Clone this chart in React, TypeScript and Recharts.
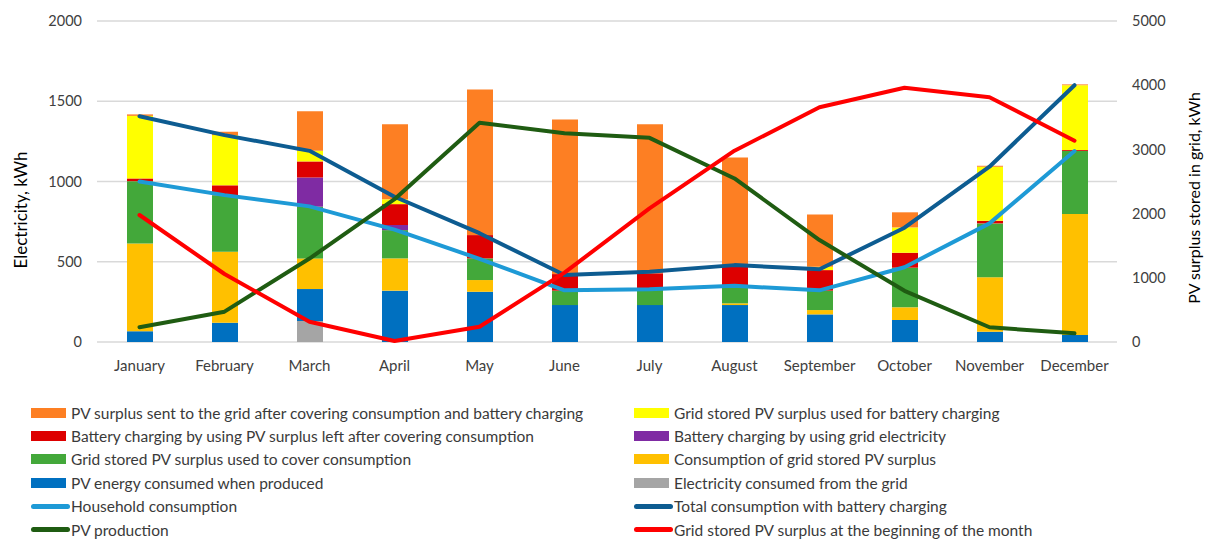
import { ComposedChart, Bar, Line, XAxis, YAxis, CartesianGrid } from 'recharts';

const months = ['January', 'February', 'March', 'April', 'May', 'June', 'July', 'August', 'September', 'October', 'November', 'December'];

// stacked bars, kWh (bottom to top)
const gridConsumed = [0, 0, 131, 0, 0, 0, 0, 0, 0, 0, 0, 0];
const pvDirect = [67, 120, 199, 320, 313, 230, 230, 230, 172, 137, 64, 44];
const gridStoredConsumption = [547, 442, 191, 201, 73, 0, 0, 11, 27, 79, 339, 753];
const gridStoredCover = [388, 353, 322, 176, 135, 90, 94, 103, 121, 247, 336, 394];
const batteryGrid = [0, 0, 182, 32, 0, 0, 0, 0, 0, 0, 0, 0];
const batteryPv = [17, 61, 100, 130, 145, 103, 104, 125, 128, 93, 16, 6];
const gridStoredBattery = [390, 313, 66, 30, 0, 0, 0, 0, 21, 158, 337, 403];
const pvSentGrid = [9, 21, 247, 467, 907, 964, 928, 681, 326, 94, 6, 5];

// lines
const household = [1000, 915, 845, 700, 518, 322, 328, 350, 322, 466, 739, 1190];
const totalWithBattery = [1407, 1289, 1191, 905, 678, 417, 438, 479, 453, 712, 1092, 1600];
const pvProduction = [92, 189, 520, 890, 1366, 1300, 1272, 1019, 635, 319, 92, 54];
const gridStoredStart = [1978, 1059, 316, 15, 238, 1080, 2082, 2980, 3656, 3961, 3812, 3136];

const leftTicks = [0, 500, 1000, 1500, 2000];
const rightTicks = [0, 1000, 2000, 3000, 4000, 5000];

const data = months.map((m, i) => ({
  month: m,
  gridConsumed: gridConsumed[i],
  pvDirect: pvDirect[i],
  gridStoredConsumption: gridStoredConsumption[i],
  gridStoredCover: gridStoredCover[i],
  batteryGrid: batteryGrid[i],
  batteryPv: batteryPv[i],
  gridStoredBattery: gridStoredBattery[i],
  pvSentGrid: pvSentGrid[i],
  household: household[i],
  totalWithBattery: totalWithBattery[i],
  pvProduction: pvProduction[i],
  gridStoredStart: gridStoredStart[i],
}));

const FONT = 'Lato, "Open Sans", sans-serif';

const legendLeft = [
  { label: 'PV surplus sent to the grid after covering consumption and battery charging', color: '#FD7F23', kind: 'bar' },
  { label: 'Battery charging by using PV surplus left after covering consumption', color: '#DD0000', kind: 'bar' },
  { label: 'Grid stored PV surplus used to cover consumption', color: '#43A83A', kind: 'bar' },
  { label: 'PV energy consumed when produced', color: '#0070C0', kind: 'bar' },
  { label: 'Household consumption', color: '#1E9AD6', kind: 'line' },
  { label: 'PV production', color: '#1F5C12', kind: 'line' },
];
const legendRight = [
  { label: 'Grid stored PV surplus used for battery charging', color: '#FFFF00', kind: 'bar' },
  { label: 'Battery charging by using grid electricity', color: '#7F2BA3', kind: 'bar' },
  { label: 'Consumption of grid stored PV surplus', color: '#FFC000', kind: 'bar' },
  { label: 'Electricity consumed from the grid', color: '#A5A5A5', kind: 'bar' },
  { label: 'Total consumption with battery charging', color: '#0D5C91', kind: 'line' },
  { label: 'Grid stored PV surplus at the beginning of the month', color: '#FF0000', kind: 'line' },
];

function LegendColumn({ items, left }: { items: typeof legendLeft; left: number }) {
  return (
    <div style={{ position: 'absolute', left, top: 401 }}>
      {items.map((it) => (
        <div key={it.label} style={{ display: 'flex', alignItems: 'center', height: 23.4 }}>
          {it.kind === 'bar' ? (
            <span style={{ width: 35, height: 10, background: it.color, marginRight: 5 }} />
          ) : (
            <span style={{ width: 39, height: 5, borderRadius: 3, background: it.color, marginRight: 1 }} />
          )}
          <span style={{ fontSize: 15.5, color: '#3a3a3a', whiteSpace: 'nowrap' }}>{it.label}</span>
        </div>
      ))}
    </div>
  );
}

export default function App() {
  return (
    <div style={{ position: 'absolute', left: 0, top: 0, width: 1207, height: 540, background: '#fff', fontFamily: FONT }}>
      <ComposedChart width={1207} height={400} data={data} margin={{ top: 21, right: 0, bottom: 28, left: 0 }}>
        <CartesianGrid yAxisId="left" vertical={false} stroke="#d9d9d9" strokeWidth={1.5} />
        <XAxis
          dataKey="month"
          axisLine={false}
          tickLine={false}
          height={30}
          tickMargin={12}
          tick={{ fill: '#404040', fontSize: 15, fontFamily: FONT }}
        />
        <YAxis
          yAxisId="left"
          domain={[0, 2000]}
          ticks={leftTicks}
          width={97}
          axisLine={false}
          tickLine={false}
          tickMargin={9}
          tick={{ fill: '#404040', fontSize: 14.5, fontFamily: FONT }}
          label={{
            content: () => (
              <text x={20} y={210} transform="rotate(-90 20 210)" textAnchor="middle" dominantBaseline="central" fill="#000" fontSize={17} fontFamily={FONT}>
                Electricity, kWh
              </text>
            ),
          }}
        />
        <YAxis
          yAxisId="right"
          orientation="right"
          domain={[0, 5000]}
          ticks={rightTicks}
          width={90}
          axisLine={false}
          tickLine={false}
          tickMargin={9}
          tick={{ fill: '#404040', fontSize: 14.5, fontFamily: FONT, textAnchor: 'start' }}
          label={{
            content: () => (
              <text x={1193} y={198} transform="rotate(-90 1193 198)" textAnchor="middle" dominantBaseline="central" fill="#000" fontSize={16} fontFamily={FONT}>
                PV surplus stored in grid, kWh
              </text>
            ),
          }}
        />
        <Bar yAxisId="left" dataKey="gridConsumed" stackId="s" barSize={26} fill="#A5A5A5" isAnimationActive={false} />
        <Bar yAxisId="left" dataKey="pvDirect" stackId="s" barSize={26} fill="#0070C0" isAnimationActive={false} />
        <Bar yAxisId="left" dataKey="gridStoredConsumption" stackId="s" barSize={26} fill="#FFC000" isAnimationActive={false} />
        <Bar yAxisId="left" dataKey="gridStoredCover" stackId="s" barSize={26} fill="#43A83A" isAnimationActive={false} />
        <Bar yAxisId="left" dataKey="batteryGrid" stackId="s" barSize={26} fill="#7F2BA3" isAnimationActive={false} />
        <Bar yAxisId="left" dataKey="batteryPv" stackId="s" barSize={26} fill="#DD0000" isAnimationActive={false} />
        <Bar yAxisId="left" dataKey="gridStoredBattery" stackId="s" barSize={26} fill="#FFFF00" isAnimationActive={false} />
        <Bar yAxisId="left" dataKey="pvSentGrid" stackId="s" barSize={26} fill="#FD7F23" isAnimationActive={false} />
        <Line yAxisId="left" type="linear" dataKey="household" stroke="#1E9AD6" strokeWidth={4} dot={false} strokeLinecap="round" strokeLinejoin="round" isAnimationActive={false} />
        <Line yAxisId="left" type="linear" dataKey="totalWithBattery" stroke="#0D5C91" strokeWidth={4} dot={false} strokeLinecap="round" strokeLinejoin="round" isAnimationActive={false} />
        <Line yAxisId="left" type="linear" dataKey="pvProduction" stroke="#1F5C12" strokeWidth={4} dot={false} strokeLinecap="round" strokeLinejoin="round" isAnimationActive={false} />
        <Line yAxisId="right" type="linear" dataKey="gridStoredStart" stroke="#FF0000" strokeWidth={4} dot={false} strokeLinecap="round" strokeLinejoin="round" isAnimationActive={false} />
      </ComposedChart>
      <LegendColumn items={legendLeft} left={31} />
      <LegendColumn items={legendRight} left={634} />
    </div>
  );
}
